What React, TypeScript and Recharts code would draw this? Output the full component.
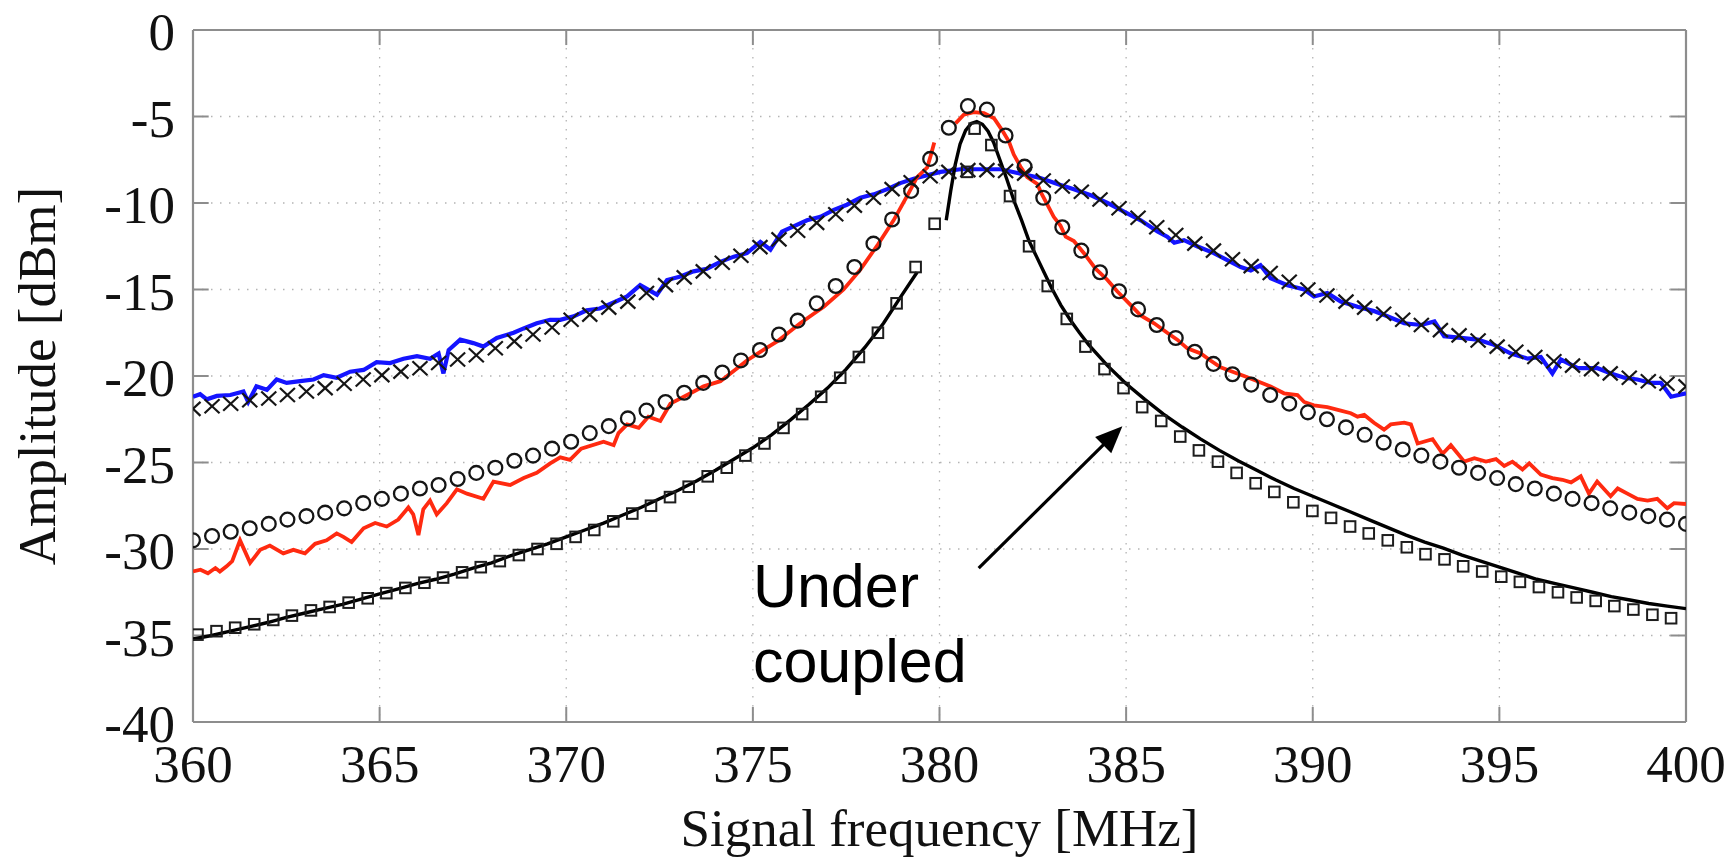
import React from "react";
import {
  ComposedChart,
  Line,
  Scatter,
  XAxis,
  YAxis,
  CartesianGrid,
  ReferenceLine,
  ReferenceDot,
} from "recharts";

// ---------- axes ----------
const xTicks = [360, 365, 370, 375, 380, 385, 390, 395, 400];
const yTicks = [0, -5, -10, -15, -20, -25, -30, -35, -40];
const xLabel = "Signal frequency [MHz]";
const yLabel = "Amplitude [dBm]";
const noteLines = ["Under", "coupled"];
const noteAt = { f: 375.0, v: -33.35 };
const arrowFrom = { f: 381.05, v: -31.1 };
const arrowTo = { f: 384.9, v: -22.9 };

// ---------- marker frequencies (MHz) ----------
const markerFreq = [
  360.0, 360.51, 361.01, 361.52, 362.03, 362.53, 363.04, 363.54, 364.05, 364.56,
  365.06, 365.57, 366.08, 366.58, 367.09, 367.59, 368.1, 368.61, 369.11, 369.62,
  370.13, 370.63, 371.14, 371.65, 372.15, 372.66, 373.16, 373.67, 374.18, 374.68,
  375.19, 375.7, 376.2, 376.71, 377.22, 377.72, 378.23, 378.73, 379.24, 379.75,
  380.25, 380.76, 381.27, 381.77, 382.28, 382.78, 383.29, 383.8, 384.3, 384.81,
  385.32, 385.82, 386.33, 386.84, 387.34, 387.85, 388.35, 388.86, 389.37, 389.87,
  390.38, 390.89, 391.39, 391.9, 392.41, 392.91, 393.42, 393.92, 394.43, 394.94,
  395.44, 395.95, 396.46, 396.96, 397.47, 397.97, 398.48, 398.99, 399.49, 400.0,
];

// circles (model, red case)
const circleAmp = [
  -29.5, -29.25, -29.0, -28.8, -28.55, -28.3, -28.1, -27.9, -27.65, -27.35,
  -27.1, -26.8, -26.5, -26.3, -25.95, -25.6, -25.3, -24.9, -24.6, -24.2,
  -23.8, -23.3, -22.9, -22.45, -22.0, -21.5, -20.97, -20.4, -19.8, -19.1,
  -18.5, -17.6, -16.8, -15.8, -14.8, -13.7, -12.35, -10.95, -9.3, -7.45,
  -5.65, -4.4, -4.6, -6.1, -7.9, -9.7, -11.4, -12.75, -14.0, -15.1,
  -16.15, -17.05, -17.8, -18.6, -19.3, -19.9, -20.5, -21.1, -21.6, -22.1,
  -22.5, -22.97, -23.4, -23.85, -24.25, -24.6, -24.95, -25.3, -25.6, -25.9,
  -26.25, -26.5, -26.8, -27.1, -27.35, -27.65, -27.9, -28.1, -28.3, -28.55,
];

// crosses (model, blue case)
const crossAmp = [
  -21.9, -21.75, -21.6, -21.4, -21.3, -21.1, -20.9, -20.7, -20.45, -20.2,
  -19.95, -19.75, -19.55, -19.25, -19.05, -18.8, -18.4, -18.0, -17.6, -17.2,
  -16.75, -16.45, -16.05, -15.7, -15.2, -14.75, -14.3, -13.95, -13.45, -13.05,
  -12.55, -12.1, -11.6, -11.15, -10.65, -10.15, -9.7, -9.2, -8.8, -8.45,
  -8.2, -8.1, -8.1, -8.15, -8.3, -8.7, -9.05, -9.35, -9.8, -10.3,
  -10.85, -11.4, -11.85, -12.35, -12.75, -13.25, -13.65, -14.05, -14.55, -15.0,
  -15.35, -15.7, -16.05, -16.4, -16.75, -17.05, -17.35, -17.65, -17.95, -18.3,
  -18.6, -18.9, -19.15, -19.4, -19.6, -19.85, -20.1, -20.3, -20.45, -20.6,
];

// squares (model, under coupled)
const squareFreq = [
  360.12, 360.63, 361.13, 361.64, 362.15, 362.65, 363.16, 363.66, 364.17, 364.68,
  365.18, 365.69, 366.2, 366.7, 367.21, 367.71, 368.22, 368.73, 369.23, 369.74,
  370.25, 370.75, 371.26, 371.77, 372.27, 372.78, 373.28, 373.79, 374.3, 374.8,
  375.31, 375.82, 376.32, 376.83, 377.34, 377.84, 378.35, 378.85, 379.36, 379.87,
  380.74, 380.94, 381.39, 381.89, 382.4, 382.9, 383.41, 383.91, 384.42, 384.93,
  385.43, 385.94, 386.45, 386.95, 387.46, 387.96, 388.47, 388.97, 389.48, 389.99,
  390.49, 391.0, 391.5, 392.01, 392.52, 393.02, 393.53, 394.03, 394.54, 395.05,
  395.55, 396.06, 396.57, 397.07, 397.58, 398.08, 398.59, 399.1, 399.6,
];
const squareAmp = [
  -34.95, -34.75, -34.55, -34.35, -34.1, -33.85, -33.55, -33.35, -33.1, -32.85,
  -32.55, -32.25, -31.95, -31.65, -31.35, -31.05, -30.7, -30.35, -30.0, -29.7,
  -29.3, -28.9, -28.4, -27.95, -27.5, -27.0, -26.4, -25.8, -25.3, -24.6,
  -23.9, -23.0, -22.2, -21.2, -20.1, -18.9, -17.5, -15.8, -13.7, -11.2,
  -8.2, -5.7, -6.65, -9.6, -12.5, -14.8, -16.7, -18.3, -19.6, -20.7,
  -21.8, -22.6, -23.5, -24.3, -24.95, -25.6, -26.2, -26.7, -27.3, -27.8,
  -28.2, -28.7, -29.1, -29.5, -29.9, -30.3, -30.6, -31.0, -31.3, -31.6,
  -31.9, -32.2, -32.5, -32.8, -33.0, -33.3, -33.5, -33.8, -34.0,
];

// ---------- measured blue trace ----------
const blueFreq = [
  360.0, 360.19, 360.37, 360.64, 361.0, 361.35, 361.48, 361.7, 361.98, 362.24,
  362.51, 362.87, 363.23, 363.5, 363.85, 364.21, 364.57, 364.92, 365.28, 365.64,
  366.0, 366.35, 366.58, 366.71, 366.85, 367.16, 367.51, 367.78, 368.14, 368.59,
  368.86, 369.21, 369.57, 369.84, 370.2, 370.55, 370.9, 371.27, 371.63, 371.98,
  372.43, 372.7, 373.06, 373.41, 373.77, 374.13, 374.49, 374.84, 375.2, 375.47,
  375.78, 376.09, 376.45, 376.81, 377.17, 377.52, 377.88, 378.24, 378.6, 378.95,
  379.31, 379.67, 380.03, 380.56, 381.1, 381.64, 382.17, 382.7, 383.16, 383.6,
  384.05, 384.5, 384.94, 385.39, 385.84, 386.1, 386.29, 386.55, 386.9, 387.35,
  387.8, 388.07, 388.34, 388.6, 388.87, 389.32, 389.77, 390.03, 390.39, 390.75,
  391.2, 391.64, 392.0, 392.45, 392.9, 393.26, 393.52, 393.97, 394.42, 394.86,
  395.31, 395.76, 396.11, 396.42, 396.65, 397.1, 397.63, 397.99, 398.35, 398.7,
  399.06, 399.33, 399.6, 400.0,
];
const blueAmp = [
  -21.2, -21.05, -21.35, -21.15, -21.1, -20.9, -21.5, -20.6, -20.8, -20.2,
  -20.4, -20.3, -20.2, -19.95, -20.1, -19.75, -19.65, -19.2, -19.25, -19.0,
  -18.85, -19.0, -18.7, -19.85, -18.5, -17.9, -18.1, -18.3, -17.8, -17.5,
  -17.25, -16.95, -16.75, -16.75, -16.55, -16.2, -16.1, -15.75, -15.4, -14.75,
  -15.3, -14.45, -14.25, -13.95, -13.8, -13.4, -13.1, -12.9, -12.25, -12.7,
  -11.65, -11.35, -11.0, -10.8, -10.4, -10.1, -9.7, -9.5, -9.2, -8.85,
  -8.6, -8.4, -8.2, -8.05, -8.05, -8.05, -8.3, -8.55, -8.9, -9.2,
  -9.55, -10.0, -10.5, -11.0, -11.65, -11.95, -12.3, -12.15, -12.5, -12.9,
  -13.4, -13.7, -13.9, -13.6, -14.35, -14.75, -15.0, -15.4, -15.2, -15.7,
  -16.0, -16.25, -16.55, -16.95, -17.05, -16.85, -17.7, -17.8, -17.9, -18.2,
  -18.7, -19.0, -18.9, -19.85, -19.05, -19.55, -19.55, -19.85, -20.1, -20.2,
  -20.4, -20.4, -21.2, -21.0,
];

// ---------- measured red trace (null = gap) ----------
const redFreq = [
  360.0, 360.2, 360.4, 360.6, 360.72, 360.9, 361.05, 361.26, 361.53, 361.8,
  362.06, 362.42, 362.69, 363.0, 363.27, 363.58, 363.85, 364.03, 364.25, 364.57,
  364.88, 365.19, 365.5, 365.77, 365.9, 366.04, 366.17, 366.35, 366.53, 366.8,
  367.07, 367.34, 367.78, 368.05, 368.5, 368.86, 369.21, 369.57, 369.84, 370.1,
  370.4, 371.0, 371.27, 371.4, 371.63, 371.94, 372.2, 372.52, 372.79, 373.24,
  373.68, 374.13, 374.58, 374.84, 375.2, 375.65, 376.27, 376.63, 376.9, 377.43,
  377.88, 378.35, 378.77, 379.13, 379.4, 379.67, 379.76, 379.86, 380.1,
  380.43, 380.65, 380.92, 381.19, 381.46, 381.68, 381.86, 381.99, 382.17, 382.35,
  382.62, 382.72, 382.89, 383.06, 383.24, 383.38, 383.6, 383.87, 384.18, 384.5,
  384.76, 385.17, 385.39, 385.75, 386.1, 386.37, 386.64, 387.0, 387.26, 387.53,
  387.85, 388.16, 388.52, 388.87, 389.23, 389.59, 389.77, 390.03, 390.39, 390.75,
  391.02, 391.2, 391.38, 391.64, 391.91, 392.09, 392.45, 392.63, 392.81, 393.21,
  393.48, 393.7, 394.06, 394.33, 394.64, 394.91, 395.13, 395.35, 395.62, 395.8,
  396.11, 396.42, 396.69, 396.92, 397.18, 397.4, 397.62, 397.98, 398.17, 398.43,
  398.7, 398.97, 399.23, 399.5, 399.68, 400.0,
];
const redAmp = [
  -31.3, -31.2, -31.4, -31.1, -31.3, -31.0, -30.7, -29.5, -30.8, -30.05,
  -29.8, -30.25, -30.05, -30.25, -29.7, -29.5, -29.1, -29.3, -29.6, -28.8,
  -28.5, -28.7, -28.3, -27.6, -28.0, -29.2, -27.7, -27.2, -28.0, -27.35,
  -26.55, -26.8, -27.1, -26.1, -26.3, -25.9, -25.6, -25.05, -24.7, -24.85,
  -24.2, -23.8, -24.0, -23.3, -22.8, -23.0, -22.35, -22.6, -21.6, -21.1,
  -20.6, -20.3, -19.55, -19.1, -18.6, -18.0, -16.95, -16.4, -16.0, -15.0,
  -13.85, -12.4, -11.0, -9.6, -8.5, -7.95, -7.3, -6.5, null,
  -5.4, -4.9, -4.75, -4.8, -5.1, -5.8, -6.45, -7.2, -7.9, -8.5,
  -8.9, -9.4, -10.1, -10.8, -11.3, -11.95, -12.2, -12.9, -13.8, -14.45,
  -15.1, -16.0, -16.5, -16.95, -17.5, -17.9, -18.4, -18.7, -19.1, -19.5,
  -19.75, -20.0, -20.3, -20.6, -21.0, -21.1, -21.5, -21.7, -21.8, -22.0,
  -22.15, -22.35, -22.25, -22.7, -23.1, -22.8, -22.7, -22.8, -23.9, -23.65,
  -24.5, -24.0, -24.95, -24.75, -24.95, -24.8, -25.2, -24.95, -25.4, -25.05,
  -25.7, -25.9, -26.0, -26.15, -25.8, -26.8, -26.1, -26.95, -26.5, -26.8,
  -27.1, -27.2, -27.1, -27.65, -27.35, -27.4,
];

// ---------- measured black trace (null = gap) ----------
const blackFreq = [
  360.0, 360.5, 361.0, 361.5, 362.0, 362.5, 363.0, 363.5, 364.0, 364.5,
  365.0, 365.5, 366.0, 366.5, 367.0, 367.5, 368.0, 368.5, 369.0, 369.5,
  370.0, 370.5, 371.0, 371.5, 372.0, 372.5, 373.0, 373.5, 374.0, 374.5,
  375.0, 375.5, 376.0, 376.5, 377.0, 377.5, 378.0, 378.5, 379.0, 379.4,
  379.8,
  380.18, 380.3, 380.42, 380.55, 380.7, 380.85, 381.0, 381.15, 381.3, 381.45,
  381.6, 381.8, 382.0, 382.2, 382.4, 382.6, 382.8, 383.0, 383.25, 383.5,
  383.75, 384.0, 384.5, 385.0, 385.5, 386.0, 386.5, 387.0, 387.5, 388.0,
  388.5, 389.0, 389.5, 390.0, 390.5, 391.0, 391.5, 392.0, 392.5, 393.0,
  393.5, 394.0, 394.5, 395.0, 395.5, 396.0, 396.5, 397.0, 397.5, 398.0,
  398.5, 399.0, 399.5, 400.0,
];
const blackAmp = [
  -35.2, -35.0, -34.75, -34.5, -34.25, -33.95, -33.7, -33.45, -33.2, -32.9,
  -32.6, -32.3, -32.0, -31.75, -31.45, -31.1, -30.8, -30.4, -30.05, -29.7,
  -29.3, -28.9, -28.5, -28.05, -27.6, -27.1, -26.6, -26.05, -25.45, -24.8,
  -24.15, -23.4, -22.55, -21.65, -20.7, -19.6, -18.35, -16.95, -15.3, -14.0,
  null,
  -11.0, -9.3, -7.8, -6.6, -5.8, -5.4, -5.3, -5.45, -5.85, -6.5,
  -7.4, -8.6, -9.9, -11.0, -12.2, -13.1, -14.0, -14.9, -15.9, -16.75,
  -17.5, -18.2, -19.4, -20.45, -21.35, -22.2, -22.95, -23.65, -24.3, -24.9,
  -25.45, -26.0, -26.5, -26.95, -27.4, -27.85, -28.3, -28.75, -29.2, -29.6,
  -29.95, -30.35, -30.7, -31.05, -31.4, -31.75, -32.0, -32.25, -32.5, -32.75,
  -32.95, -33.15, -33.3, -33.45,
];

// ---------- assembled tables ----------
const zip = (fs: number[], vs: (number | null)[]) => fs.map((f, i) => ({ f, v: vs[i] }));
const blueData = zip(blueFreq, blueAmp);
const redData = zip(redFreq, redAmp);
const blackData = zip(blackFreq, blackAmp);
const circleData = zip(markerFreq, circleAmp);
const crossData = zip(markerFreq, crossAmp);
const squareData = zip(squareFreq, squareAmp);

// ---------- styles ----------
const FRAME = "#8d8d8d";
const SERIF = "'Liberation Serif', 'Times New Roman', serif";
const SANS = "'Liberation Sans', Arial, sans-serif";
const FONT = 53;
const TICK_LEN_X = 0.42; // MHz
const TICK_LEN_Y = 0.87; // dB

const CrossShape = (p: any) => {
  const { cx, cy } = p;
  if (cx == null || cy == null) return <g />;
  const sx = 7.5, sy = 7;
  return (
    <g stroke="#151515" strokeWidth={2.2} fill="none">
      <line x1={cx - sx} y1={cy - sy} x2={cx + sx} y2={cy + sy} />
      <line x1={cx - sx} y1={cy + sy} x2={cx + sx} y2={cy - sy} />
    </g>
  );
};
const CircleShape = (p: any) => {
  const { cx, cy } = p;
  if (cx == null || cy == null) return <g />;
  return <circle cx={cx} cy={cy} r={6.9} fill="none" stroke="#151515" strokeWidth={2.3} />;
};
const SquareShape = (p: any) => {
  const { cx, cy } = p;
  if (cx == null || cy == null) return <g />;
  return <rect x={cx - 5.3} y={cy - 5.3} width={10.6} height={10.6} fill="none" stroke="#1d1d1d" strokeWidth={2} />;
};

const XTick = (p: any) => (
  <text x={p.x} y={p.y + 60} textAnchor="middle" fontFamily={SERIF} fontSize={FONT} fill="#111">
    {String(p.payload.value)}
  </text>
);
const YTick = (p: any) => (
  <text x={p.x - 18} y={p.y + 20} textAnchor="end" fontFamily={SERIF} fontSize={FONT} fill="#111">
    {String(p.payload.value)}
  </text>
);

const YLabelContent = (p: any) => {
  const vb = p.viewBox || {};
  const cx = vb.x + 55;
  const cy = vb.y + vb.height / 2;
  return (
    <text x={cx} y={cy} transform={`rotate(-90, ${cx}, ${cy})`} textAnchor="middle" fontFamily={SERIF} fontSize={FONT} fill="#111">
      {yLabel}
    </text>
  );
};
const XLabelContent = (p: any) => {
  const vb = p.viewBox || {};
  const cx = vb.x + vb.width / 2;
  const cy = vb.y + 124;
  return (
    <text x={cx} y={cy} textAnchor="middle" fontFamily={SERIF} fontSize={FONT} fill="#111">
      {xLabel}
    </text>
  );
};

const ArrowShape = (p: any) => {
  const { x1, y1, x2, y2 } = p;
  const dx = x2 - x1, dy = y2 - y1;
  const len = Math.sqrt(dx * dx + dy * dy) || 1;
  const ux = dx / len, uy = dy / len;
  const head = 27, half = 11.5;
  const bx = x2 - ux * head, by = y2 - uy * head;
  const px = -uy, py = ux;
  return (
    <g>
      <line x1={x1} y1={y1} x2={bx + ux * 2} y2={by + uy * 2} stroke="#000" strokeWidth={3.2} />
      <polygon
        points={`${x2},${y2} ${bx + px * half},${by + py * half} ${bx - px * half},${by - py * half}`}
        fill="#000"
      />
    </g>
  );
};

const NoteShape = (p: any) => (
  <text x={p.cx} y={p.cy} fontFamily={SANS} fontSize={61} fill="#000">
    <tspan x={p.cx}>{noteLines[0]}</tspan>
    <tspan x={p.cx} dy={75}>{noteLines[1]}</tspan>
  </text>
);

export default function App() {
  const xMin = xTicks[0], xMax = xTicks[xTicks.length - 1];
  const yMax = yTicks[0], yMin = yTicks[yTicks.length - 1];
  const innerX = xTicks.slice(1, -1);
  const innerY = yTicks.slice(1, -1);
  return (
    <div style={{ position: "absolute", left: 0, top: 0, width: 1735, height: 858, background: "#fff" }}>
      <ComposedChart width={1735} height={858} margin={{ top: 30, right: 49, bottom: 0, left: 0 }}>
        <CartesianGrid stroke="#b4b4b4" strokeWidth={1.3} strokeDasharray="1.5 7.5" />
        <XAxis
          type="number"
          dataKey="f"
          domain={[xMin, xMax]}
          ticks={xTicks}
          allowDataOverflow
          height={136}
          tickLine={false}
          axisLine={false}
          tickSize={0}
          tickMargin={0}
          tick={XTick}
          interval={0}
          label={{ content: XLabelContent }}
        />
        <YAxis
          type="number"
          dataKey="v"
          domain={[yMin, yMax]}
          ticks={yTicks}
          allowDataOverflow
          width={193}
          tickLine={false}
          axisLine={false}
          tickSize={0}
          tickMargin={0}
          tick={YTick}
          interval={0}
          label={{ content: YLabelContent }}
        />

        {/* frame */}
        <ReferenceLine x={xMin} stroke={FRAME} strokeWidth={2.2} />
        <ReferenceLine x={xMax} stroke={FRAME} strokeWidth={2.2} />
        <ReferenceLine y={yMax} stroke={FRAME} strokeWidth={2.2} />
        <ReferenceLine y={yMin} stroke={FRAME} strokeWidth={2.2} />
        {innerX.map((t) => (
          <ReferenceLine key={`bx${t}`} segment={[{ x: t, y: yMin }, { x: t, y: yMin + TICK_LEN_Y }]} stroke={FRAME} strokeWidth={2} />
        ))}
        {innerX.map((t) => (
          <ReferenceLine key={`tx${t}`} segment={[{ x: t, y: yMax }, { x: t, y: yMax - TICK_LEN_Y }]} stroke={FRAME} strokeWidth={2} />
        ))}
        {innerY.map((t) => (
          <ReferenceLine key={`ly${t}`} segment={[{ x: xMin, y: t }, { x: xMin + TICK_LEN_X, y: t }]} stroke={FRAME} strokeWidth={2} />
        ))}
        {innerY.map((t) => (
          <ReferenceLine key={`ry${t}`} segment={[{ x: xMax - TICK_LEN_X, y: t }, { x: xMax, y: t }]} stroke={FRAME} strokeWidth={2} />
        ))}

        <Line data={blueData} dataKey="v" type="linear" stroke="#1414ff" strokeWidth={4.2} dot={false} activeDot={false} isAnimationActive={false} />
        <Line data={redData} dataKey="v" type="linear" stroke="#ff2a10" strokeWidth={3.8} dot={false} activeDot={false} isAnimationActive={false} />
        <Line data={blackData} dataKey="v" type="linear" stroke="#000" strokeWidth={3.4} dot={false} activeDot={false} isAnimationActive={false} />

        <Scatter data={crossData} dataKey="v" shape={CrossShape} isAnimationActive={false} />
        <Scatter data={circleData} dataKey="v" shape={CircleShape} isAnimationActive={false} />
        <Scatter data={squareData} dataKey="v" shape={SquareShape} isAnimationActive={false} />

        <ReferenceLine
          segment={[{ x: arrowFrom.f, y: arrowFrom.v }, { x: arrowTo.f, y: arrowTo.v }]}
          shape={ArrowShape}
        />
        <ReferenceDot x={noteAt.f} y={noteAt.v} r={0} shape={NoteShape} ifOverflow="visible" />
      </ComposedChart>
    </div>
  );
}
